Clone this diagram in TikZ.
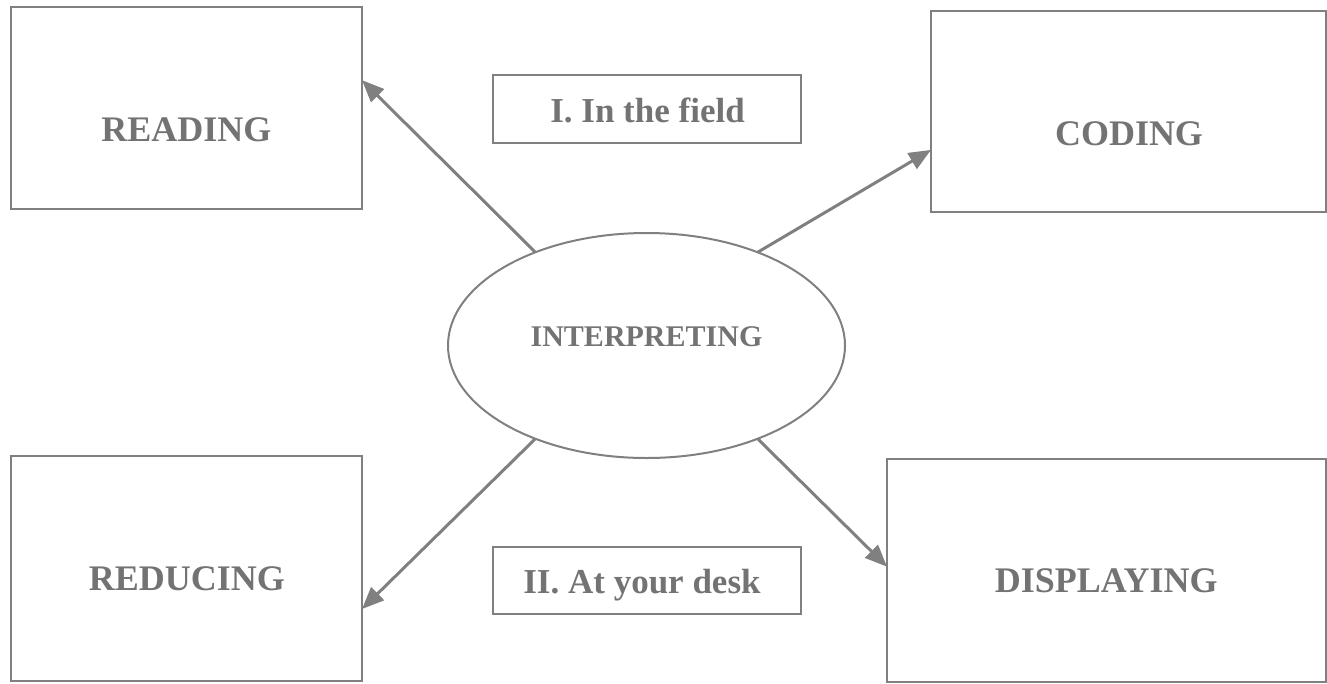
\documentclass[tikz,border=0pt]{standalone}
\usepackage{fontspec}
\setmainfont{Liberation Serif}
\usetikzlibrary{arrows.meta,shapes.geometric}
\definecolor{ink}{HTML}{808080}
\definecolor{txt}{HTML}{737373}
\begin{document}
\begin{tikzpicture}[x=1pt,y=-1pt,
  box/.style={draw=ink, line width=2.4pt, rectangle, inner sep=0pt, outer sep=0pt},
  lbl/.style={text=txt, font=\bfseries\fontsize{36}{36}\selectfont, anchor=base, inner sep=0pt},
  smlbl/.style={text=txt, font=\bfseries\fontsize{35}{35}\selectfont, anchor=base, inner sep=0pt},
  ell/.style={draw=ink, line width=2pt, ellipse, inner sep=0pt, outer sep=0pt, minimum width=397pt, minimum height=225pt},
  conn/.style={draw=ink, line width=3pt, -{Triangle[length=22pt,width=18pt]}}
]
\useasboundingbox (0,0) rectangle (1327,683);

% boxes
\node[box, minimum width=351pt, minimum height=202pt] (reading) at (186.5,108) {};
\node[box, minimum width=308pt, minimum height=68pt] (field) at (647,109) {};
\node[box, minimum width=395pt, minimum height=201pt] (coding) at (1128.5,111.5) {};
\node[ell] (interp) at (646.5,345.5) {};
\node[box, minimum width=351pt, minimum height=225pt] (reducing) at (186.5,568.5) {};
\node[box, minimum width=308pt, minimum height=67pt] (desk) at (647,580.5) {};
\node[box, minimum width=439pt, minimum height=223pt] (displaying) at (1106.5,570.5) {};

% labels
\node[lbl] (readingtxt) at (186.5,141.7) {READING};
\node[lbl] (codingtxt) at (1129,145) {CODING};
\node[lbl, font=\bfseries\fontsize{30}{30}\selectfont] (interptxt) at (646.5,346.7) {INTERPRETING};
\node[lbl] (reducingtxt) at (187,590) {REDUCING};
\node[lbl] (displayingtxt) at (1106.3,592.7) {DISPLAYING};
\node[smlbl] (fieldtxt) at (647.5,122.7) {I. In the field};
\node[smlbl] (desktxt) at (642,593.3) {II. At your desk};

% connectors
\draw[conn] (interp.140) -- (reading.9.7);
\draw[conn] (interp.40) -- (coding.191.9);
\draw[conn] (interp.220) -- (reducing.-13.9);
\draw[conn] (interp.320) -- (displaying.179.3);
\end{tikzpicture}
\end{document}
